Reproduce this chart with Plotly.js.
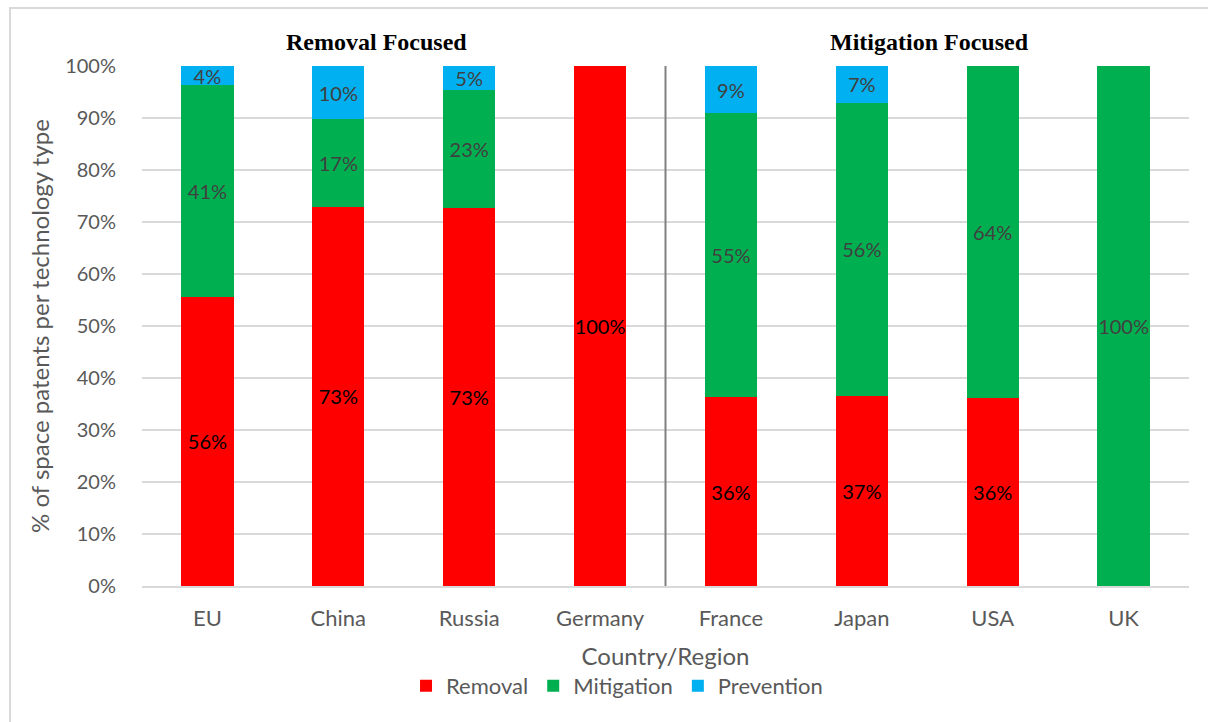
<!DOCTYPE html>
<html>
<head>
<meta charset="utf-8">
<script src="https://cdn.plot.ly/plotly-3.0.1.min.js"></script>
<style>
  html, body { margin: 0; padding: 0; background: #ffffff; overflow: hidden; }
  #frame { position: absolute; left: 9px; top: 7px; width: 1300px; height: 800px;
           border-left: 2px solid #d9d9d9; border-top: 2px solid #d9d9d9; }
  #chart { position: absolute; left: 0; top: 0; width: 1208px; height: 722px; }
</style>
</head>
<body>
<div id="frame"></div>
<div id="chart"></div>
<script>
// Share of space patents by technology type, per country/region (percent)
const countries  = ['EU', 'China', 'Russia', 'Germany', 'France', 'Japan', 'USA', 'UK'];
const removal    = [55.6, 72.9, 72.7, 100, 36.3, 36.6, 36.2, 0];
const mitigation = [40.7, 16.9, 22.7, 0, 54.6, 56.3, 63.8, 100];
const prevention = [3.7, 10.2, 4.6, 0, 9.1, 7.1, 0, 0];
const yTicks     = [0, 10, 20, 30, 40, 50, 60, 70, 80, 90, 100];

const FONT = 'Lato, "Open Sans", sans-serif';
const SERIF = '"Liberation Serif", "Times New Roman", serif';

function labels(vals) {
  return vals.map(v => v > 0 ? Math.round(v) + '%' : '');
}

function series(name, vals, color, textColor) {
  return {
    type: 'bar',
    name: name,
    x: countries,
    y: vals,
    marker: { color: color },
    text: labels(vals),
    textposition: 'inside',
    insidetextanchor: 'middle',
    textangle: 0,
    constraintext: 'none',
    textfont: { family: FONT, size: 20, color: textColor },
    hoverinfo: 'x+y+name'
  };
}

const data = [
  series('Removal', removal, '#ff0000', '#000000'),
  series('Mitigation', mitigation, '#00b050', '#404040'),
  series('Prevention', prevention, '#00b0f0', '#404040')
];

const layout = {
  width: 1208,
  height: 722,
  paper_bgcolor: 'rgba(0,0,0,0)',
  plot_bgcolor: 'rgba(0,0,0,0)',
  margin: { l: 142, r: 19, t: 66, b: 136 },
  barmode: 'stack',
  bargap: 0.6,
  font: { family: FONT, color: '#595959', size: 20 },
  xaxis: {
    type: 'category',
    showgrid: false,
    showline: true,
    linecolor: '#d9d9d9',
    linewidth: 2,
    ticks: 'outside',
    ticklen: 12,
    tickcolor: 'rgba(0,0,0,0)',
    tickfont: { family: FONT, size: 22, color: '#595959' },
    title: { text: 'Country/Region', font: { family: FONT, size: 24, color: '#595959' }, standoff: 18 }
  },
  yaxis: {
    range: [0, 100],
    tickvals: yTicks,
    ticktext: yTicks.map(v => v + '%'),
    showgrid: true,
    gridcolor: '#d9d9d9',
    gridwidth: 2,
    zeroline: false,
    showline: false,
    ticks: 'outside',
    ticklen: 21,
    tickcolor: 'rgba(0,0,0,0)',
    tickfont: { family: FONT, size: 20, color: '#595959' },
    title: { text: '% of space patents per technology type', font: { family: FONT, size: 24, color: '#595959' }, standoff: 8 }
  },
  legend: {
    orientation: 'h',
    x: 0.4537,
    xanchor: 'center',
    y: -0.192,
    yanchor: 'middle',
    font: { family: FONT, size: 22, color: '#595959' },
    itemwidth: 30,
    traceorder: 'normal'
  },
  shapes: [
    {
      type: 'line',
      xref: 'x', yref: 'y',
      x0: 3.5, x1: 3.5, y0: 0, y1: 100,
      line: { color: '#808080', width: 2 }
    }
  ],
  annotations: [
    {
      text: '<b>Removal Focused</b>',
      xref: 'paper', yref: 'paper',
      x: 0.2235, y: 1.046,
      xanchor: 'center', yanchor: 'middle',
      showarrow: false,
      font: { family: SERIF, size: 24, color: '#000000' }
    },
    {
      text: '<b>Mitigation Focused</b>',
      xref: 'paper', yref: 'paper',
      x: 0.7517, y: 1.046,
      xanchor: 'center', yanchor: 'middle',
      showarrow: false,
      font: { family: SERIF, size: 24, color: '#000000' }
    }
  ]
};

Plotly.newPlot('chart', data, layout, { displayModeBar: false, staticPlot: true });
</script>
</body>
</html>
